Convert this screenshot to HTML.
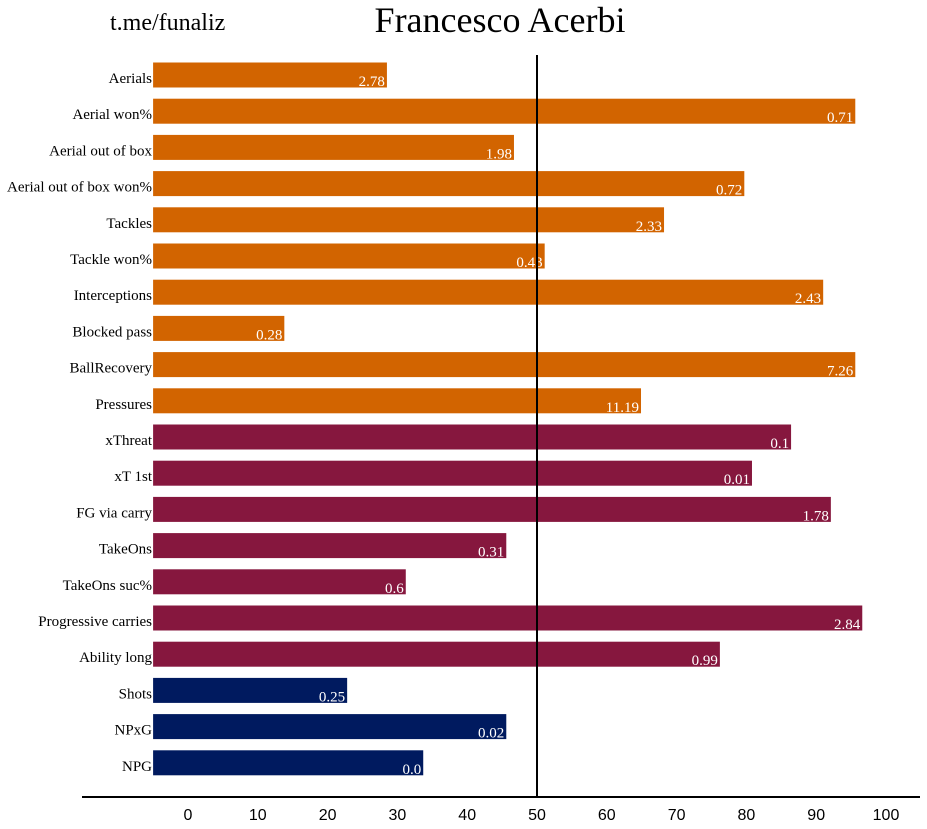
<!DOCTYPE html>
<html><head><meta charset="utf-8"><style>
body{margin:0;background:#fff;width:927px;height:829px;overflow:hidden}
svg{display:block}
</style></head><body>
<svg id="chart" width="927" height="829">
<text x="110" y="30" font-family="Liberation Serif, serif" font-size="24" fill="#000">t.me/funaliz</text>
<text x="500" y="32" text-anchor="middle" font-family="Liberation Serif, serif" font-size="36" fill="#000">Francesco Acerbi</text>
<g id="bars"></g>
<g id="axis"></g>
</svg>
<script>
const categories=["Aerials","Aerial won%","Aerial out of box","Aerial out of box won%","Tackles","Tackle won%","Interceptions","Blocked pass","BallRecovery","Pressures","xThreat","xT 1st","FG via carry","TakeOns","TakeOns suc%","Progressive carries","Ability long","Shots","NPxG","NPG"];
const percentiles=[28.5,95.6,46.7,79.7,68.2,51.1,91,13.8,95.6,64.9,86.4,80.8,92.1,45.6,31.2,96.6,76.2,22.8,45.6,33.7];
const valueLabels=["2.78","0.71","1.98","0.72","2.33","0.43","2.43","0.28","7.26","11.19","0.1","0.01","1.78","0.31","0.6","2.84","0.99","0.25","0.02","0.0"];
const groups=["def","def","def","def","def","def","def","def","def","def","pos","pos","pos","pos","pos","pos","pos","att","att","att"];
const tickValues=[0,10,20,30,40,50,60,70,80,90,100];
const colors={def:"#D26400",pos:"#86173E",att:"#001A5F"};
const NS="http://www.w3.org/2000/svg";
function xs(v){return 188+v*6.98;}
function ys(i){return 75+i*36.2;}
const bars=document.getElementById('bars');
function mk(tag,attrs,parent){const e=document.createElementNS(NS,tag);for(const k in attrs)e.setAttribute(k,attrs[k]);parent.appendChild(e);return e;}
categories.forEach((c,i)=>{
  const y=ys(i), x0=xs(-5), x1=xs(percentiles[i]);
  const r=mk('rect',{x:x0,y:y-12.5,width:x1-x0,height:25,fill:colors[groups[i]]},bars);
  
  
  const t=mk('text',{x:152,y:y+8,'text-anchor':'end','font-family':'Liberation Serif, serif','font-size':'15',fill:'#000'},bars);
  t.textContent=c;
  
  
  const v=mk('text',{x:x1-2,y:y+11,'text-anchor':'end','font-family':'Liberation Serif, serif','font-size':'15',fill:'#fff'},bars);
  v.textContent=valueLabels[i];
  
  
});
const ax=document.getElementById('axis');
const ml=mk('line',{x1:xs(50),x2:xs(50),y1:55,y2:797,stroke:'#000','stroke-width':2},ax);


const bl=mk('line',{x1:82,x2:920,y1:797,y2:797,stroke:'#000','stroke-width':2},ax);


tickValues.forEach(v=>{
  const t=mk('text',{x:xs(v),y:820,'text-anchor':'middle','font-family':'Liberation Sans, sans-serif','font-size':'16',fill:'#000'},ax);
  t.textContent=v;
  
  
});
</script>
</body></html>
